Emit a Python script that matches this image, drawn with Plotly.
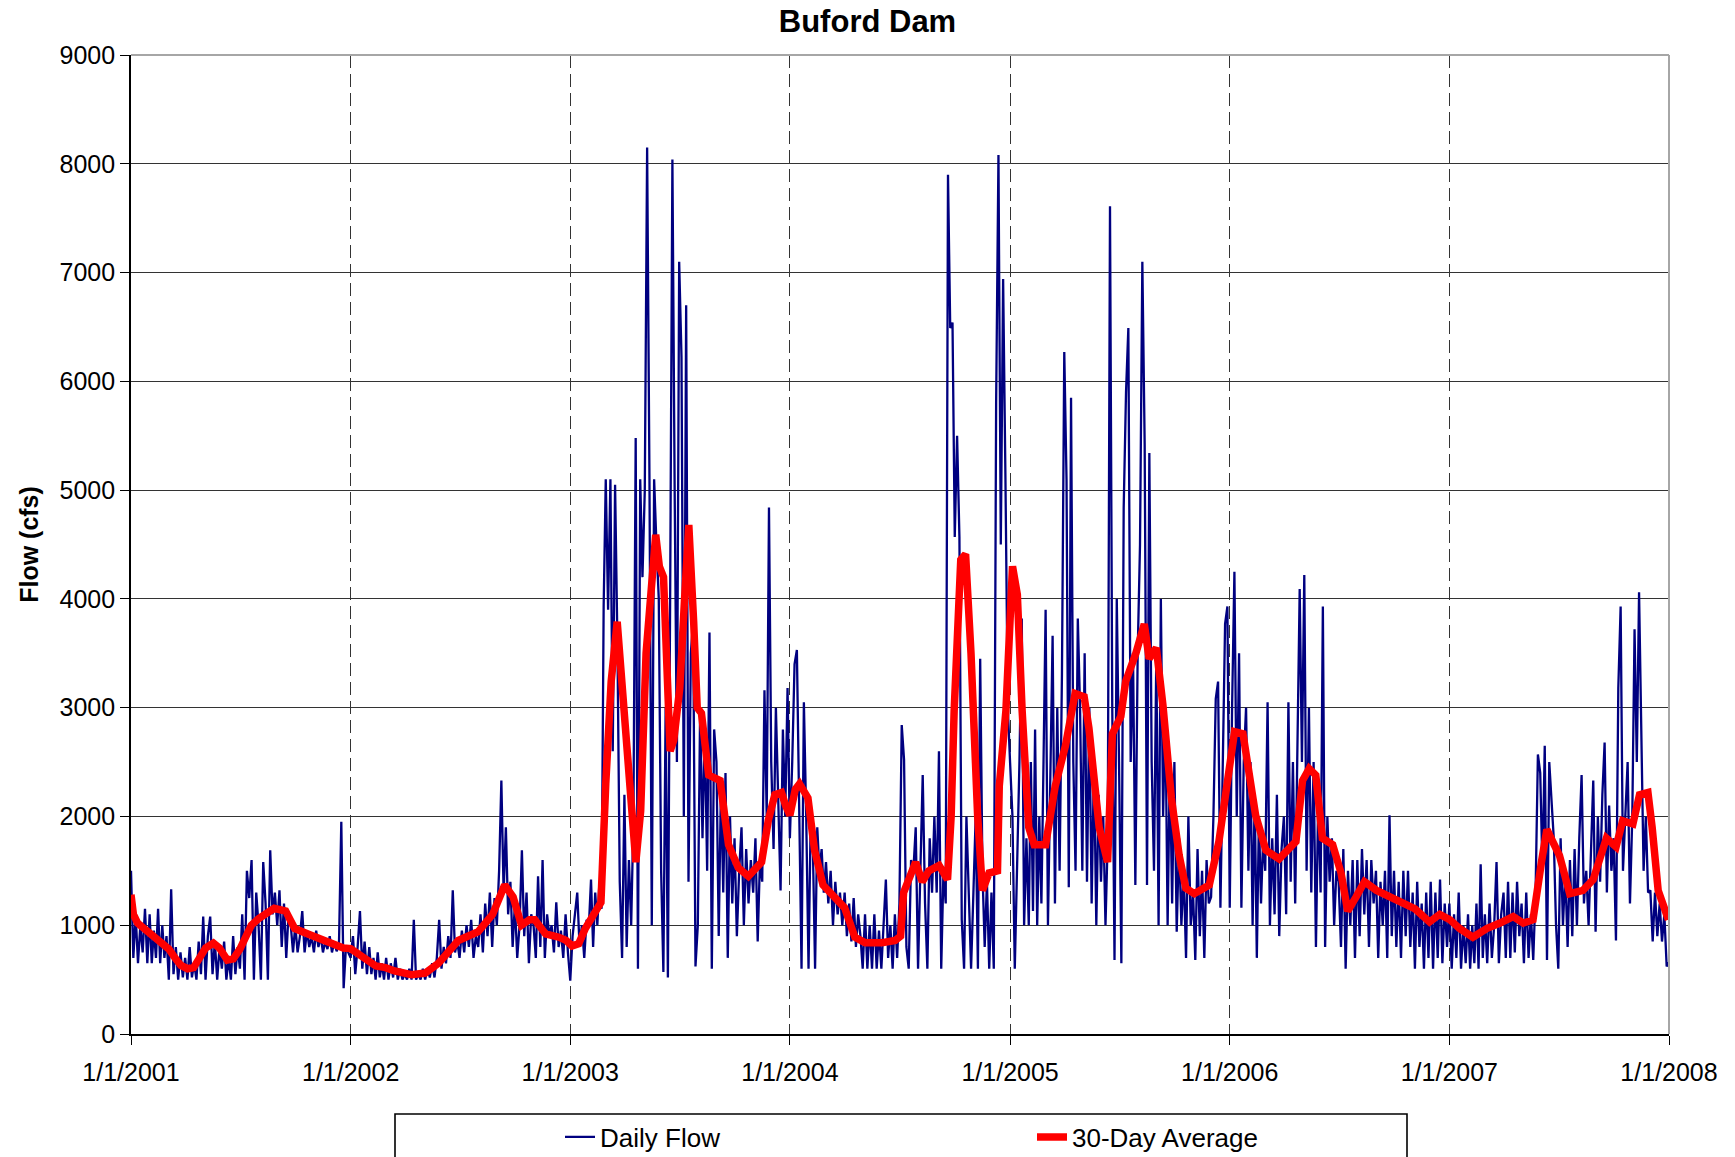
import calendar
import pandas as pd
import plotly.graph_objects as go

# ---------------- data ----------------
# Daily flow (cfs): 8 readings per month, Jan..Dec
flow_2001 = [
    1500, 700, 1100, 650, 1000, 750, 1150, 650,
    1100, 650, 950, 700, 1150, 650, 1000, 700,
    900, 500, 1330, 550, 800, 500, 750, 520,
    700, 500, 800, 520, 650, 500, 850, 550,
    1080, 500, 900, 1080, 550, 850, 500, 800,
    600, 850, 500, 700, 500, 900, 550, 800,
    600, 1100, 500, 1500, 1250, 1600, 500, 1300,
    1000, 500, 1580, 1200, 500, 1690, 1100, 1300,
    1000, 1320, 800, 1200, 700, 1100, 1000, 750,
    1000, 750, 900, 1130, 750, 950, 800, 900,
    750, 950, 800, 900, 750, 850, 780, 900,
    750, 850, 760, 820, 1950, 420, 800, 750,
]
flow_2002 = [
    700, 900, 550, 800, 1130, 600, 850, 550,
    800, 550, 700, 500, 750, 520, 650, 500,
    700, 500, 650, 520, 700, 500, 600, 500,
    550, 500, 600, 500, 1050, 500, 550, 500,
    600, 500, 600, 520, 650, 520, 700, 1050,
    600, 800, 650, 900, 700, 1320, 750, 850,
    700, 950, 750, 1000, 800, 1050, 700, 900,
    800, 1100, 750, 1200, 900, 1300, 800, 1250,
    1000, 1500, 2330, 1300, 1900, 1100, 1400, 800,
    1200, 700, 1000, 1690, 900, 1300, 650, 1100,
    1000, 700, 1450, 800, 1600, 700, 1100, 900,
    1000, 750, 1210, 800, 950, 700, 1100, 750,
]
flow_2003 = [
    490, 900, 1100, 1300, 800, 1000, 700, 1050,
    1000, 1420, 800, 1300, 1000, 1400, 1150, 3930,
    5100, 3900, 5100, 2600, 5050, 3600, 1400, 700,
    2200, 800, 1600, 1000, 2000, 5480, 600, 5100,
    4200, 5000, 8150, 5100, 1000, 5100, 4500, 4000,
    1500, 570, 3000, 520, 4000, 8040, 5000, 2500,
    7100, 6220, 2000, 6700, 1400, 3500, 3800, 620,
    1000, 3000, 1800, 2800, 1500, 3690, 600, 2800,
    2500, 900, 2300, 1300, 2400, 700, 2000, 1200,
    1800, 900, 1500, 1900, 1000, 1700, 1200, 1600,
    1300, 1800, 850, 1600, 1400, 3160, 2000, 4840,
    2500, 1700, 3000, 2200, 1320, 2800, 2000, 3180,
]
flow_2004 = [
    1800, 2500, 3400, 3530, 2200, 600, 3050, 2000,
    600, 2000, 1700, 600, 1900, 1500, 1700, 1300,
    1580, 1200, 1500, 1000, 1400, 1100, 1300, 1000,
    1300, 900, 1200, 850, 1250, 800, 1100, 900,
    600, 1100, 600, 1000, 600, 1100, 600, 950,
    600, 1000, 1420, 700, 1000, 600, 1100, 700,
    1200, 2840, 2520, 800, 600, 1600, 1500, 1900,
    600, 1500, 2380, 1200, 600, 1800, 1300, 2000,
    1300, 2600, 600, 1500, 1200, 7900, 6490, 6540,
    4570, 5500, 4570, 1050, 600, 2000, 1200, 600,
    1300, 2000, 600, 3450, 1500, 800, 1400, 600,
    1300, 600, 5800, 8080, 4500, 6940, 5100, 3000,
]
flow_2005 = [
    2490, 2000, 600, 1500, 2500, 3820, 1000, 1800,
    1000, 2500, 1130, 2800, 1000, 2000, 1200, 2500,
    3900, 1000, 2500, 3660, 1200, 3000, 1500, 3300,
    6270, 5100, 1350, 5850, 2500, 1500, 3820, 3000,
    1500, 3500, 1400, 3000, 1200, 2500, 1000, 2200,
    1400, 2000, 1000, 1800, 7610, 3000, 680, 4000,
    2500, 650, 4840, 5900, 6490, 2500, 3500, 1370,
    3500, 4500, 7100, 5420, 1370, 5340, 2500, 1500,
    3500, 1000, 4000, 2000, 3000, 1000, 2500, 1200,
    2500, 940, 1800, 1000, 1500, 700, 2000, 1000,
    1300, 680, 1700, 900, 1500, 700, 1600, 1200,
    1260, 2000, 3080, 3240, 1160, 2500, 3770, 3930,
]
flow_2006 = [
    1160, 3000, 4250, 2000, 3500, 1160, 2500, 3000,
    1500, 2500, 1000, 2200, 700, 2000, 1200, 1800,
    1500, 3050, 1000, 1800, 1100, 2200, 900, 1700,
    2000, 1100, 3050, 1400, 2500, 1200, 2800, 4090,
    2500, 4220, 1500, 3000, 1300, 2500, 800, 2200,
    1300, 3930, 800, 2000, 1400, 1800, 1000, 1500,
    1400, 800, 1700, 600, 1500, 1000, 1600, 700,
    1600, 900, 1700, 1100, 1600, 800, 1600, 1200,
    1500, 700, 1400, 1000, 1500, 700, 2010, 900,
    1500, 800, 1400, 700, 1500, 900, 1500, 800,
    1300, 600, 1400, 800, 1200, 600, 1300, 700,
    1400, 600, 1300, 700, 1420, 650, 1200, 800,
]
flow_2007 = [
    1200, 600, 1100, 700, 1300, 600, 1000, 650,
    1100, 600, 1000, 650, 1200, 600, 1560, 700,
    1100, 650, 1200, 700, 1000, 1580, 650, 1100,
    1300, 700, 1400, 700, 1300, 750, 1400, 900,
    1200, 650, 1300, 700, 1100, 680, 1300, 2570,
    2400, 1500, 2650, 680, 2500, 2200, 1800, 1000,
    600, 1800, 1000, 1500, 800, 1600, 900, 1700,
    1000, 1800, 2380, 1200, 1500, 1000, 1600, 2330,
    940, 2000, 1400, 2200, 2680, 1300, 2100, 1500,
    1800, 860, 3180, 3930, 1500, 2000, 2500, 1200,
    2000, 3720, 2500, 4060, 2760, 1500, 2000, 1300,
    1320, 850, 1300, 900, 1200, 850, 1100, 620,
]
flow_last = ("2007-12-31", 660)

# 30-day average (cfs): (date, value)
avg_2001 = [("2001-01-01", 1280), ("2001-01-05", 1100), ("2001-01-12", 1020), ("2001-01-25", 960),
            ("2001-02-10", 900), ("2001-02-20", 860), ("2001-03-05", 780), ("2001-03-15", 700),
            ("2001-03-25", 630), ("2001-04-05", 600), ("2001-04-15", 610), ("2001-04-25", 700),
            ("2001-05-05", 790), ("2001-05-18", 835), ("2001-05-28", 790), ("2001-06-10", 680),
            ("2001-06-20", 690), ("2001-07-01", 780), ("2001-07-10", 880), ("2001-07-20", 1000),
            ("2001-08-01", 1060), ("2001-08-10", 1100), ("2001-08-27", 1155), ("2001-09-15", 1130),
            ("2001-09-30", 970), ("2001-10-22", 920), ("2001-11-13", 865), ("2001-12-06", 810),
            ("2001-12-20", 790)]
avg_2002 = [("2002-01-01", 785), ("2002-01-22", 705), ("2002-02-12", 625), ("2002-02-28", 610),
            ("2002-03-15", 580), ("2002-04-12", 545), ("2002-05-05", 560), ("2002-05-27", 650),
            ("2002-06-15", 760), ("2002-06-29", 860), ("2002-08-01", 940), ("2002-08-25", 1100),
            ("2002-09-14", 1370), ("2002-09-28", 1260), ("2002-10-12", 1000), ("2002-10-25", 1050),
            ("2002-11-03", 1050), ("2002-11-21", 920), ("2002-12-13", 890), ("2002-12-25", 860)]
avg_2003 = [("2003-01-04", 810), ("2003-01-15", 830), ("2003-01-26", 970), ("2003-02-10", 1100),
            ("2003-02-21", 1210), ("2003-03-01", 2300), ("2003-03-10", 3240), ("2003-03-20", 3790),
            ("2003-04-01", 2970), ("2003-04-12", 2280), ("2003-04-20", 1580), ("2003-04-28", 2050),
            ("2003-05-07", 3500), ("2003-05-23", 4590), ("2003-05-29", 4300), ("2003-06-05", 4200),
            ("2003-06-10", 3200), ("2003-06-16", 2600), ("2003-06-22", 2700), ("2003-07-02", 3180),
            ("2003-07-10", 4000), ("2003-07-17", 4680), ("2003-07-25", 3800), ("2003-07-31", 3000),
            ("2003-08-07", 2950), ("2003-08-19", 2380), ("2003-09-07", 2330), ("2003-09-21", 1740),
            ("2003-10-07", 1530), ("2003-10-24", 1450), ("2003-11-15", 1580), ("2003-11-26", 1960),
            ("2003-12-07", 2200), ("2003-12-18", 2220), ("2003-12-25", 2100)]
avg_2004 = [("2004-01-01", 2010), ("2004-01-10", 2250), ("2004-01-17", 2300), ("2004-01-31", 2170),
            ("2004-02-11", 1690), ("2004-02-25", 1370), ("2004-03-15", 1260), ("2004-04-01", 1160),
            ("2004-04-18", 890), ("2004-05-05", 840), ("2004-06-02", 840), ("2004-06-24", 860),
            ("2004-07-03", 900), ("2004-07-08", 1300), ("2004-07-28", 1580), ("2004-08-08", 1400),
            ("2004-08-19", 1500), ("2004-09-05", 1550), ("2004-09-19", 1420), ("2004-09-25", 2000),
            ("2004-09-30", 2970), ("2004-10-11", 4360), ("2004-10-19", 4410), ("2004-10-28", 3500),
            ("2004-11-08", 2010), ("2004-11-16", 1320), ("2004-11-27", 1480), ("2004-12-11", 1500),
            ("2004-12-14", 2280), ("2004-12-25", 2970)]
avg_2005 = [("2005-01-05", 4300), ("2005-01-13", 4040), ("2005-01-21", 2970), ("2005-02-01", 1900),
            ("2005-02-10", 1740), ("2005-03-01", 1740), ("2005-03-17", 2280), ("2005-04-03", 2650),
            ("2005-04-19", 3130), ("2005-05-04", 3100), ("2005-05-12", 2810), ("2005-05-29", 1900),
            ("2005-06-12", 1580), ("2005-06-20", 2760), ("2005-07-04", 2920), ("2005-07-12", 3240),
            ("2005-07-29", 3500), ("2005-08-12", 3770), ("2005-08-20", 3450), ("2005-09-01", 3550),
            ("2005-09-12", 3020), ("2005-09-26", 2170), ("2005-10-09", 1640), ("2005-10-20", 1340),
            ("2005-11-03", 1290), ("2005-11-28", 1370), ("2005-12-14", 1770), ("2005-12-28", 2380)]
avg_2006 = [("2006-01-09", 2780), ("2006-01-23", 2760), ("2006-02-02", 2380), ("2006-02-13", 2010),
            ("2006-03-02", 1690), ("2006-03-24", 1610), ("2006-04-21", 1770), ("2006-05-02", 2330),
            ("2006-05-13", 2440), ("2006-05-24", 2380), ("2006-06-04", 1800), ("2006-06-21", 1740),
            ("2006-07-05", 1480), ("2006-07-16", 1130), ("2006-07-30", 1260), ("2006-08-13", 1400),
            ("2006-09-02", 1320), ("2006-09-24", 1260), ("2006-10-16", 1210), ("2006-11-05", 1150),
            ("2006-11-29", 1030), ("2006-12-16", 1100)]
avg_2007 = [("2007-01-02", 1050), ("2007-01-18", 970), ("2007-02-09", 890), ("2007-03-04", 970),
            ("2007-03-26", 1020), ("2007-04-17", 1080), ("2007-05-04", 1020), ("2007-05-20", 1050),
            ("2007-06-03", 1580), ("2007-06-12", 1880), ("2007-07-03", 1640), ("2007-07-20", 1290),
            ("2007-08-11", 1320), ("2007-08-28", 1420), ("2007-09-19", 1800), ("2007-10-05", 1720),
            ("2007-10-16", 1960), ("2007-11-02", 1930), ("2007-11-13", 2200), ("2007-11-27", 2220),
            ("2007-12-04", 1900), ("2007-12-14", 1320), ("2007-12-31", 1050)]

year_ticks = ["2001-01-01", "2002-01-01", "2003-01-01", "2004-01-01",
              "2005-01-01", "2006-01-01", "2007-01-01", "2008-01-01"]
year_labels = ["1/1/2001", "1/1/2002", "1/1/2003", "1/1/2004",
               "1/1/2005", "1/1/2006", "1/1/2007", "1/1/2008"]
y_ticks = [0, 1000, 2000, 3000, 4000, 5000, 6000, 7000, 8000, 9000]

# ---------------- assemble ----------------
flow_by_year = {2001: flow_2001, 2002: flow_2002, 2003: flow_2003, 2004: flow_2004,
                2005: flow_2005, 2006: flow_2006, 2007: flow_2007}
fx, fy = [], []
for yr, vals in flow_by_year.items():
    for m in range(12):
        nd = calendar.monthrange(yr, m + 1)[1]
        for k in range(8):
            fx.append(pd.Timestamp(yr, m + 1, 1) + pd.Timedelta(days=k * nd / 8))
            fy.append(vals[m * 8 + k])
fx.append(pd.Timestamp(flow_last[0]))
fy.append(flow_last[1])

avg_all = avg_2001 + avg_2002 + avg_2003 + avg_2004 + avg_2005 + avg_2006 + avg_2007
ax = [pd.Timestamp(d) for d, _ in avg_all]
ay = [v for _, v in avg_all]

FONT = "Liberation Sans, Arial, sans-serif"

fig = go.Figure()
fig.add_trace(go.Scatter(x=fx, y=fy, mode="lines", name="Daily Flow",
                         line=dict(color="#000080", width=2.3)))
fig.add_trace(go.Scatter(x=ax, y=ay, mode="lines", name="30-Day Average",
                         line=dict(color="#FF0000", width=7.5)))

L, R, T, B = 131, 66, 55, 123
W, H = 1735, 1157
pw, ph = W - L - R, H - T - B

def px_x(p):
    return (p - L) / pw

def px_y(p):
    return (H - B - p) / ph

fig.update_layout(
    width=W, height=H,
    margin=dict(l=L, r=R, t=T, b=B, autoexpand=False),
    paper_bgcolor="white", plot_bgcolor="white",
    font=dict(family=FONT, size=25, color="black"),
    title=dict(text="<b>Buford Dam</b>", x=0.5, xref="container", xanchor="center",
               y=1 - 21 / H, yanchor="middle", font=dict(size=31, family=FONT, color="black")),
    showlegend=True,
    legend=dict(orientation="h", x=px_x(560), xanchor="left", y=px_y(1137), yanchor="middle",
                entrywidth=427, entrywidthmode="pixels", bgcolor="rgba(0,0,0,0)",
                borderwidth=0, font=dict(size=26, family=FONT, color="black")),
    xaxis=dict(type="date", range=["2001-01-01", "2008-01-01"],
               tickmode="array", tickvals=year_ticks, ticktext=year_labels,
               showgrid=True, gridcolor="#333333", gridwidth=1.4, griddash="13px,6px",
               showline=True, linecolor="black", linewidth=1.6,
               ticks="outside", ticklen=9, tickcolor="black", tickwidth=1.4,
               ticklabelstandoff=6,
               tickfont=dict(size=25, family=FONT, color="black"), zeroline=False),
    yaxis=dict(range=[0, 9000], tickmode="array", tickvals=y_ticks,
               showgrid=True, gridcolor="#333333", gridwidth=1.4,
               showline=True, linecolor="black", linewidth=1.6,
               ticks="outside", ticklen=9, tickcolor="black", tickwidth=1.4,
               tickfont=dict(size=25, family=FONT, color="black"), zeroline=False,
               title=dict(text="<b>Flow (cfs)</b>", standoff=14,
                          font=dict(size=25, family=FONT, color="black"))),
    shapes=[
        dict(type="line", xref="paper", yref="paper", x0=0, x1=1, y0=1, y1=1,
             line=dict(color="#a6a6a6", width=2), layer="above"),
        dict(type="line", xref="paper", yref="paper", x0=1, x1=1, y0=0, y1=1,
             line=dict(color="#a6a6a6", width=2), layer="above"),
        dict(type="rect", xref="paper", yref="paper", x0=px_x(395), x1=px_x(1407),
             y0=px_y(1114), y1=px_y(1175), line=dict(color="black", width=1.6),
             fillcolor="rgba(0,0,0,0)", layer="above"),
    ],
)

fig.write_html("out.html")
